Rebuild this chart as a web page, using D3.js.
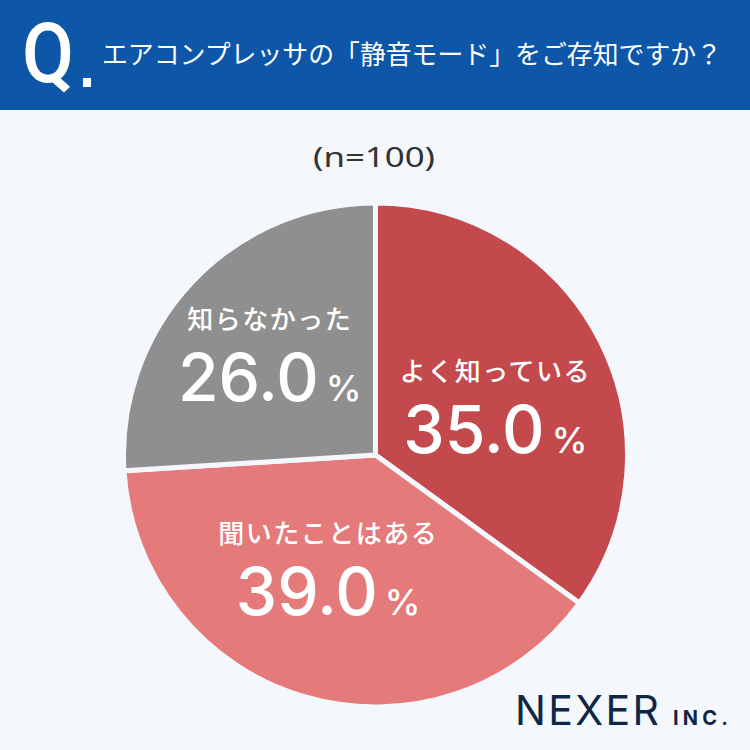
<!DOCTYPE html>
<html><head><meta charset="utf-8">
<script src="https://cdn.jsdelivr.net/npm/d3@7"></script>
<style>html,body{margin:0;padding:0;background:#f4f8fd;}svg{display:block}</style>
</head><body>
<script>
const categories = ["よく知っている", "聞いたことはある", "知らなかった"];
const values = [35.0, 39.0, 26.0];
const colors = ["#c4494c", "#e47a7a", "#8f8f8f"];
const title = "エアコンプレッサの「静音モード」をご存知ですか？";
const sampleNote = "(n=100)";

const W = 750, H = 750;
const svg = d3.select("body").append("svg").attr("width", W).attr("height", H);
svg.append("rect").attr("width", W).attr("height", H).attr("fill", "#f4f8fd");

// header
svg.append("rect").attr("width", W).attr("height", 110).attr("fill", "#0d56a8");
svg.append("text").attr("x", 22).attr("y", 82).attr("font-family", "Roboto").attr("font-weight", 500)
  .attr("font-size", 84).attr("fill", "#fff").attr("textLength", 52).attr("lengthAdjust", "spacingAndGlyphs").text("Q");
svg.append("rect").attr("x", 83).attr("y", 78).attr("width", 8).attr("height", 9).attr("fill", "#fff");
svg.append("text").attr("x", 102).attr("y", 64).attr("font-family", "Noto Sans CJK JP").attr("font-weight", 400)
  .attr("font-size", 26).attr("fill", "#fff").attr("textLength", 620).attr("lengthAdjust", "spacingAndGlyphs").text(title);

// n note
svg.append("text").attr("x", 313).attr("y", 167)
  .attr("font-family", "Noto Sans").attr("font-size", 28).attr("fill", "#333")
  .attr("textLength", 122).attr("lengthAdjust", "spacingAndGlyphs").text(sampleNote);

// pie
const cx = 375.5, cy = 455, R = 252;
const g = svg.append("g").attr("transform", `translate(${cx},${cy})`);
const pie = d3.pie().sort(null).value(d => d.v);
const data = categories.map((c, i) => ({c, v: values[i], col: colors[i]}));
const arcs = pie(data);
const arc = d3.arc().innerRadius(0).outerRadius(R);
g.selectAll("path.slice").data(arcs).join("path").attr("class", "slice")
  .attr("d", arc).attr("fill", d => d.data.col)
  .attr("stroke", "#f4f8fd").attr("stroke-width", 5).attr("stroke-linejoin", "miter");

const labelArc = d3.arc().innerRadius(130).outerRadius(130);
const nudge = [[4, 21.5], [-11, -0.5], [-11, -1]];
arcs.forEach((d, i) => {
  const [x0, y0] = labelArc.centroid(d);
  const ax = x0 + nudge[i][0], ay = y0 + nudge[i][1];
  g.append("text").attr("x", ax).attr("y", ay - 36).attr("text-anchor", "middle")
    .attr("font-family", "Noto Sans CJK JP").attr("font-weight", 500).attr("font-size", 26)
    .attr("letter-spacing", 1.5).attr("fill", "#fff").text(d.data.c);
  const t = g.append("text").attr("x", ax).attr("y", ay + 36).attr("text-anchor", "middle")
    .attr("font-family", "Inter").attr("font-weight", 500).attr("fill", "#fff");
  t.append("tspan").attr("font-size", 66).text(d.data.v.toFixed(1));
  t.append("tspan").attr("font-size", 36).attr("dx", 7).text("%");
});

// logo
svg.append("text").attr("x", 515).attr("y", 725).attr("font-family", "Inter").attr("font-weight", 400)
  .attr("font-size", 41).attr("fill", "#0f2747").attr("textLength", 144).attr("lengthAdjust", "spacing").text("NEXER");
svg.append("text").attr("x", 673).attr("y", 725).attr("font-family", "Inter").attr("font-weight", 700)
  .attr("font-size", 20).attr("fill", "#0f2747").attr("textLength", 55).attr("lengthAdjust", "spacing").text("INC.");
</script>
</body></html>
